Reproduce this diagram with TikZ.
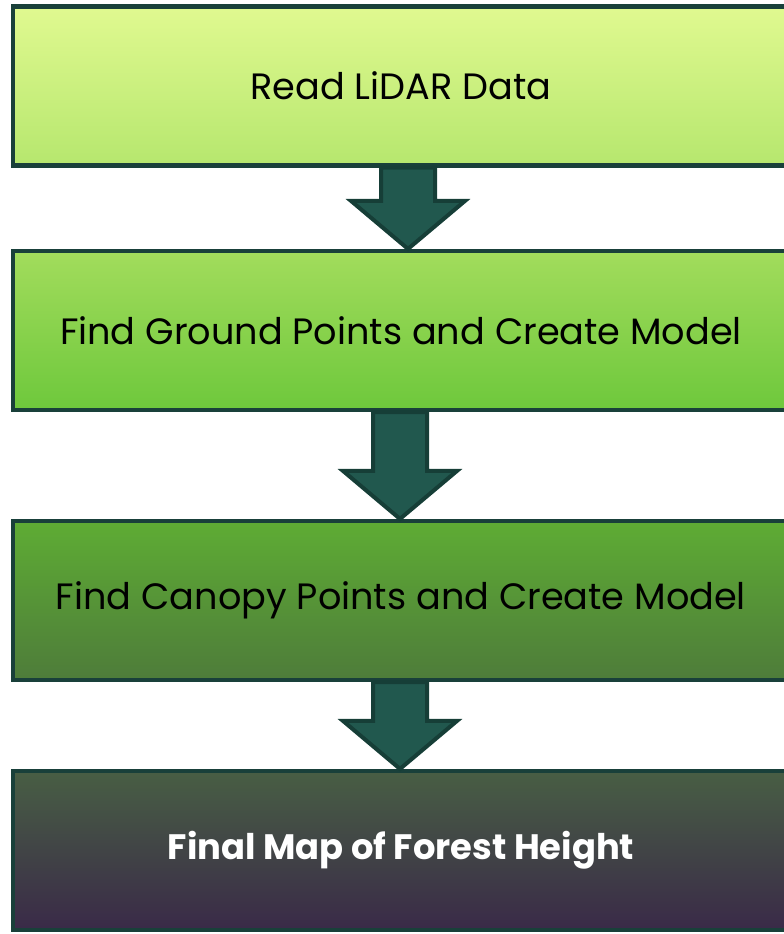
\documentclass[tikz,border=0pt]{standalone}
\usepackage{fontspec}
\setmainfont{Poppins}
\usepackage{tikz}
\usetikzlibrary{positioning, calc}

\definecolor{edgegreen}{HTML}{19403A}
\definecolor{arrowfill}{HTML}{21584E}
\definecolor{arrowedge}{HTML}{163E37}

\tikzset{
  stepbox/.style={draw=edgegreen, line width=3.4pt, minimum width=582pt,
    minimum height=119pt, inner sep=0pt, font=\fontsize{27.5}{32}\selectfont},
  flowarrow/.style={draw=arrowedge, fill=arrowfill, line width=3pt, line join=miter}
}

% block arrow from the bottom of one box to the top of the next
\newcommand{\blockarrow}[3]{%
  \draw[flowarrow] ($(#1.south)+(#3-27,0)$) -- ($(#2.north)+(#3-27,48)$)
    -- ($(#2.north)+(#3-57,48)$) -- ($(#2.north)+(#3,0)$)
    -- ($(#2.north)+(#3+57,48)$) -- ($(#2.north)+(#3+27,48)$)
    -- ($(#1.south)+(#3+27,0)$) -- cycle;
}

\begin{document}
\begin{tikzpicture}[x=0.75pt, y=0.75pt]
\useasboundingbox (0,0) rectangle (784,-934);

% the four steps
\node[stepbox, top color={rgb,255:red,224;green,249;blue,144},
  bottom color={rgb,255:red,182;green,231;blue,110}] (read) at (401,-86) {Read LiDAR Data};
\node[stepbox, top color={rgb,255:red,162;green,220;blue,92},
  bottom color={rgb,255:red,110;green,200;blue,60}] (ground) at (401,-330.5) {Find Ground Points and Create Model};
\node[stepbox, top color={rgb,255:red,94;green,172;blue,52},
  bottom color={rgb,255:red,78;green,124;blue,58}] (canopy) at (401,-600.5) {Find Canopy Points and Create Model};
\node[stepbox, top color={rgb,255:red,72;green,94;blue,68},
  bottom color={rgb,255:red,58;green,42;blue,72}, text=white, font=\fontsize{26.5}{31}\selectfont\bfseries] (height) at (401,-850.5) {Final Map of Forest Height};

% arrows between them
\blockarrow{read}{ground}{7}
\blockarrow{ground}{canopy}{-1}
\blockarrow{canopy}{height}{-1}
\end{tikzpicture}
\end{document}
